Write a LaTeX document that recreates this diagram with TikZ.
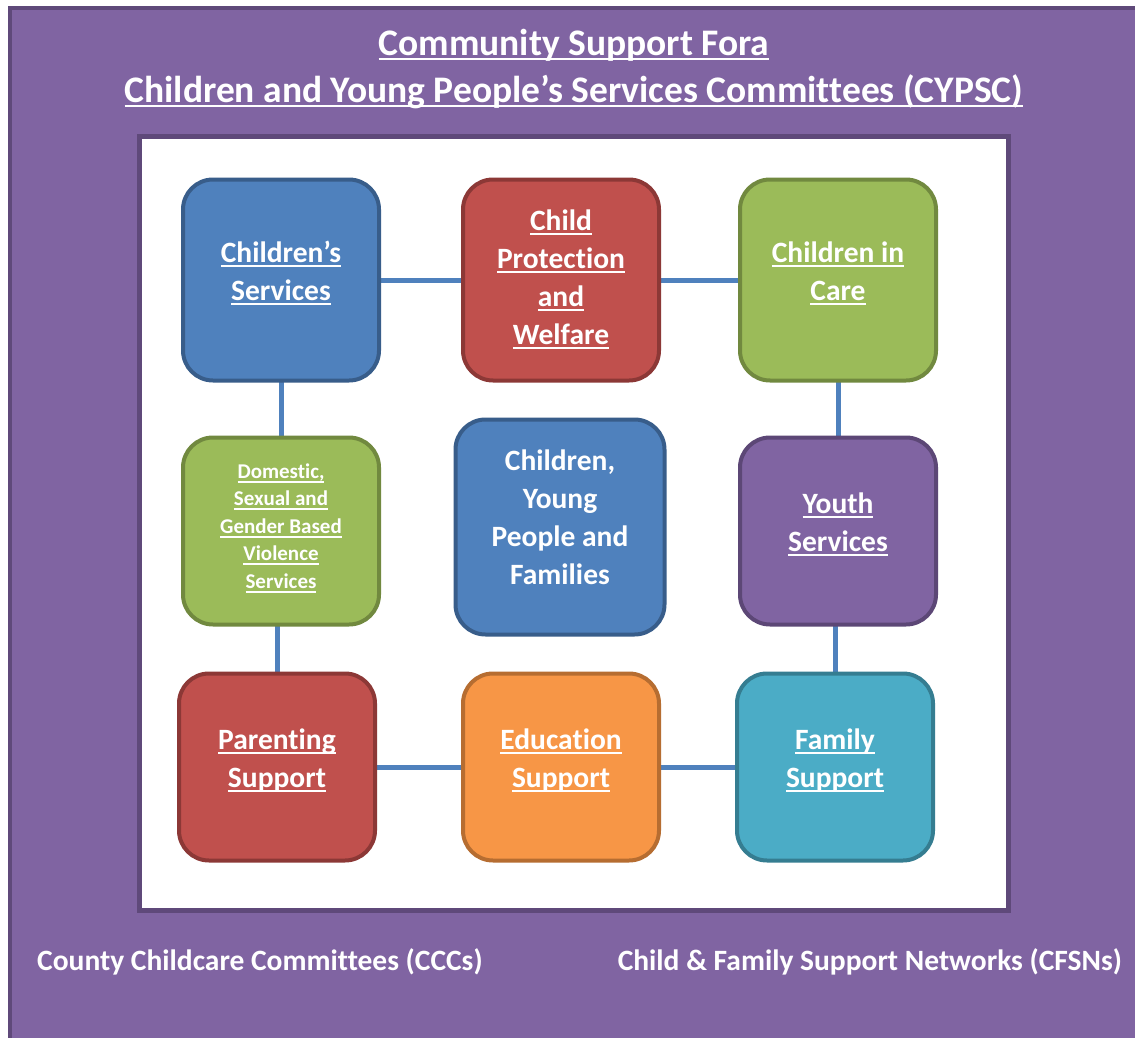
\documentclass[tikz,border=0pt]{standalone}
\usepackage{fontspec}
\setmainfont{Carlito}[Ligatures=NoCommon]
% underline with a fixed rule, one line at a time
\newcommand\uln[1]{\setbox0\hbox{#1}\rlap{\rule[-4.5pt]{\wd0}{1.9pt}}\box0}
\definecolor{bgpurple}{HTML}{8064A2}
\definecolor{bgedge}{HTML}{5F497A}
\definecolor{cblue}{HTML}{4F81BD}\definecolor{eblue}{HTML}{385D8A}
\definecolor{cred}{HTML}{C0504D}\definecolor{ered}{HTML}{8C3836}
\definecolor{cgreen}{HTML}{9BBB59}\definecolor{egreen}{HTML}{71893F}
\definecolor{cpurple}{HTML}{8064A2}\definecolor{epurple}{HTML}{5C4776}
\definecolor{caqua}{HTML}{4BACC6}\definecolor{eaqua}{HTML}{357D91}
\definecolor{corange}{HTML}{F79646}\definecolor{eorange}{HTML}{B66D31}
\tikzset{
  area/.style={rounded corners=30pt, line width=4pt, inner sep=0pt},
  bluebox/.style={area, fill=cblue, draw=eblue},
  redbox/.style={area, fill=cred, draw=ered},
  greenbox/.style={area, fill=cgreen, draw=egreen},
  purplebox/.style={area, fill=cpurple, draw=epurple},
  aquabox/.style={area, fill=caqua, draw=eaqua},
  orangebox/.style={area, fill=corange, draw=eorange},
  tall/.style={minimum width=196pt, minimum height=201pt},
  short/.style={minimum width=196pt, minimum height=187pt},
  boxtext/.style={text=white, align=center, inner sep=0pt,
    font=\fontsize{29.5}{38}\selectfont\bfseries},
  smalltext/.style={boxtext, font=\fontsize{21}{27.5}\selectfont\bfseries},
  link/.style={draw=cblue, line width=5pt},
  caption/.style={text=white, font=\fontsize{29.5}{34}\selectfont\bfseries, inner sep=0pt},
  heading/.style={caption, font=\fontsize{37.5}{44}\selectfont\bfseries}
}
\begin{document}
\begin{tikzpicture}[x=1pt,y=-1pt]
  \useasboundingbox (0,0) rectangle (1135,1038);
  % outer frame
  \path[fill=bgpurple, draw=bgedge, line width=4pt] (10,8) rectangle (1137,1040);
  % inner white panel
  \path[fill=white, draw=bgedge, line width=5pt] (139,137) rectangle (1008,910);

  % titles
  \node[heading] (t1) at (574,45) {\uln{Community Support Fora}};
  \node[heading] (t2) at (574,92) {\uln{Children and Young People’s Services Committees (CYPSC)}};

  % box centres
  \coordinate (cs) at (281,280);
  \coordinate (cp) at (561,280);
  \coordinate (cc) at (838,280);
  \coordinate (dv) at (281,531);
  \coordinate (ys) at (838,531);
  \coordinate (ps) at (277,767);
  \coordinate (es) at (561,767);
  \coordinate (fs) at (835,767);

  % connectors (drawn first, boxes cover their ends)
  \draw[link] (cs) -- (cp);
  \draw[link] (cp) -- (cc);
  \draw[link] (cs) -- (dv);
  \draw[link] (cc) -- (ys);
  \draw[link] (ps) -- (ps |- dv);
  \draw[link] (fs) -- (fs |- ys);
  \draw[link] (ps) -- (es);
  \draw[link] (es) -- (fs);

  % boxes
  \node[bluebox, tall] (n1) at (cs) {};
  \node[redbox, tall] (n2) at (cp) {};
  \node[greenbox, tall] (n3) at (cc) {};
  \node[greenbox, short] (n4) at (dv) {};
  \node[bluebox, minimum width=209pt, minimum height=215pt] (n5) at (560,527) {};
  \node[purplebox, short] (n6) at (ys) {};
  \node[redbox, short] (n7) at (ps) {};
  \node[orangebox, short] (n8) at (es) {};
  \node[aquabox, short] (n9) at (fs) {};

  % box labels
  \node[boxtext] (l1) at ([yshift=7pt]n1.center) {\uln{Children’s}\\\uln{Services}};
  \node[boxtext] (l2) at ([yshift=1pt]n2.center) {\uln{Child}\\\uln{Protection}\\\uln{and}\\\uln{Welfare}};
  \node[boxtext] (l3) at ([yshift=7pt]n3.center) {\uln{Children in}\\\uln{Care}};
  \node[smalltext] (l4) at ([yshift=3pt]n4.center) {\uln{Domestic,}\\\uln{Sexual and}\\\uln{Gender Based}\\\uln{Violence}\\\uln{Services}};
  \node[boxtext] (l5) at ([yshift=10pt]n5.center) {Children,\\Young\\People and\\Families};
  \node[boxtext] (l6) at ([yshift=7pt]n6.center) {\uln{Youth}\\\uln{Services}};
  \node[boxtext] (l7) at ([yshift=7pt]n7.center) {\uln{Parenting}\\\uln{Support}};
  \node[boxtext] (l8) at ([yshift=7pt]n8.center) {\uln{Education}\\\uln{Support}};
  \node[boxtext] (l9) at ([yshift=7pt]n9.center) {\uln{Family}\\\uln{Support}};

  % bottom captions
  \node[caption, anchor=west] (b1) at (37,962) {County Childcare Committees (CCCs)};
  \node[caption, anchor=east] (b2) at (1122,962) {Child \& Family Support Networks (CFSNs)};
\end{tikzpicture}
\end{document}
